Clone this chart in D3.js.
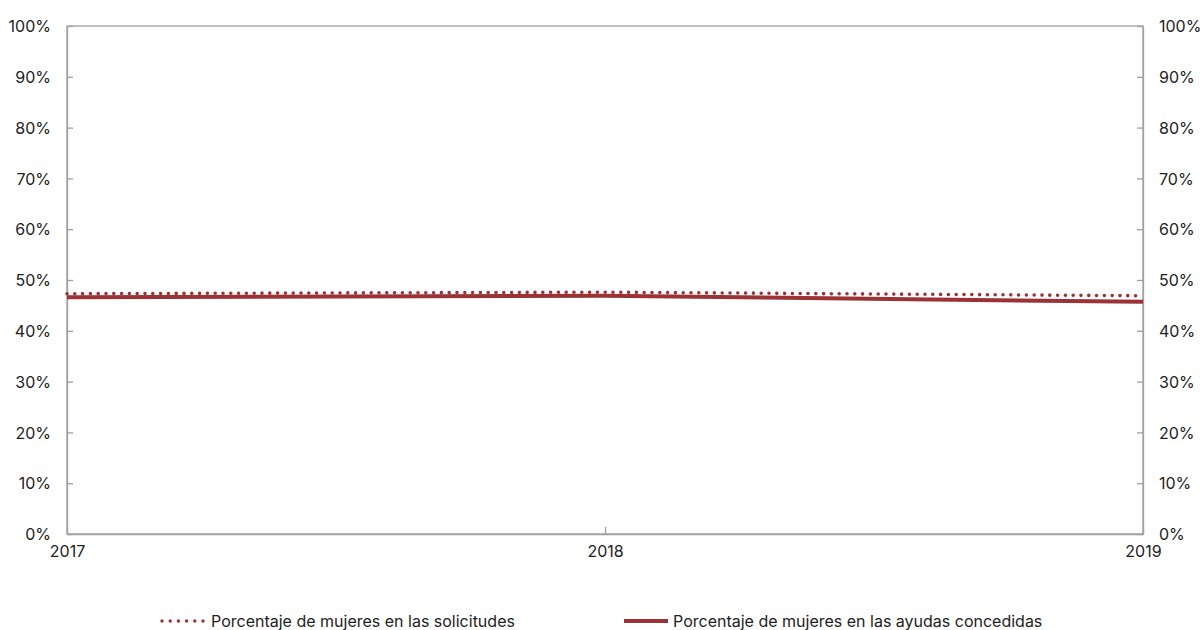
<!DOCTYPE html>
<html><head><meta charset="utf-8">
<script src="https://cdn.jsdelivr.net/npm/d3@7"></script>
<style>body{margin:0;background:#fff}text{font-family:Inter,"Noto Sans",sans-serif}</style>
</head><body><svg id="c" width="1200" height="630"></svg>
<script>
const years = [2017, 2018, 2019];
const solicitudes = [47.3, 47.6, 46.9];
const concedidas = [46.6, 46.9, 45.7];
const yTicks = [0,10,20,30,40,50,60,70,80,90,100];
const seriesNames = ["Porcentaje de mujeres en las solicitudes","Porcentaje de mujeres en las ayudas concedidas"];
const color = "#9b3236";

const svg = d3.select("#c");
const L=67, R=1143, T=26, B=534;
const x = d3.scaleLinear().domain([2017,2019]).range([L,R]);
const y = d3.scaleLinear().domain([0,100]).range([B,T]);
const axisColor = "#a0a0a0";
// frame
svg.append("rect").attr("x",L).attr("y",T).attr("width",R-L).attr("height",B-T)
  .attr("fill","none").attr("stroke",axisColor).attr("stroke-width",1.3);
// left axis
const gl = svg.append("g").attr("transform",`translate(${L},0)`)
  .call(d3.axisLeft(y).tickValues(yTicks).tickFormat(d=>d+"%").tickSizeInner(-6).tickSizeOuter(0).tickPadding(16));
const gr = svg.append("g").attr("transform",`translate(${R},0)`)
  .call(d3.axisRight(y).tickValues(yTicks).tickFormat(d=>d+"%").tickSizeInner(-6).tickSizeOuter(0).tickPadding(16));
const gb = svg.append("g").attr("transform",`translate(0,${B})`)
  .call(d3.axisBottom(x).tickValues(years).tickFormat(d3.format("d")).tickSizeInner(-7).tickSizeOuter(0).tickPadding(12));
[gl,gr,gb].forEach(g=>{
  g.select(".domain").attr("stroke",axisColor).attr("stroke-width",1.3);
  g.selectAll(".tick line").attr("stroke",axisColor).attr("stroke-width",1.3);
  g.selectAll(".tick text").attr("fill","#222").style("font-size","16px").style("font-family","Inter, 'Noto Sans', sans-serif");
});
gl.selectAll(".tick text").attr("dy","0.35em");
gr.selectAll(".tick text").attr("dy","0.35em");

const line = d3.line().x((d,i)=>x(years[i])).y(d=>y(d));
svg.append("path").datum(concedidas).attr("d",line).attr("fill","none")
  .attr("stroke",color).attr("stroke-width",4);
svg.append("path").datum(solicitudes).attr("d",line).attr("fill","none")
  .attr("stroke",color).attr("stroke-width",3.6).attr("stroke-linecap","round")
  .attr("stroke-dasharray","0 7.8");

// legend
const ly = 621;
svg.append("line").attr("x1",162).attr("x2",205).attr("y1",ly).attr("y2",ly)
  .attr("stroke",color).attr("stroke-width",3.4).attr("stroke-linecap","round").attr("stroke-dasharray","0 8.2");
svg.append("text").attr("x",211).attr("y",ly).attr("dy","0.35em").style("font-size","16px").attr("fill","#222").text(seriesNames[0]);
svg.append("line").attr("x1",624).attr("x2",668).attr("y1",ly).attr("y2",ly)
  .attr("stroke",color).attr("stroke-width",4);
svg.append("text").attr("x",673).attr("y",ly).attr("dy","0.35em").style("font-size","16px").attr("fill","#222").text(seriesNames[1]);
</script></body></html>
